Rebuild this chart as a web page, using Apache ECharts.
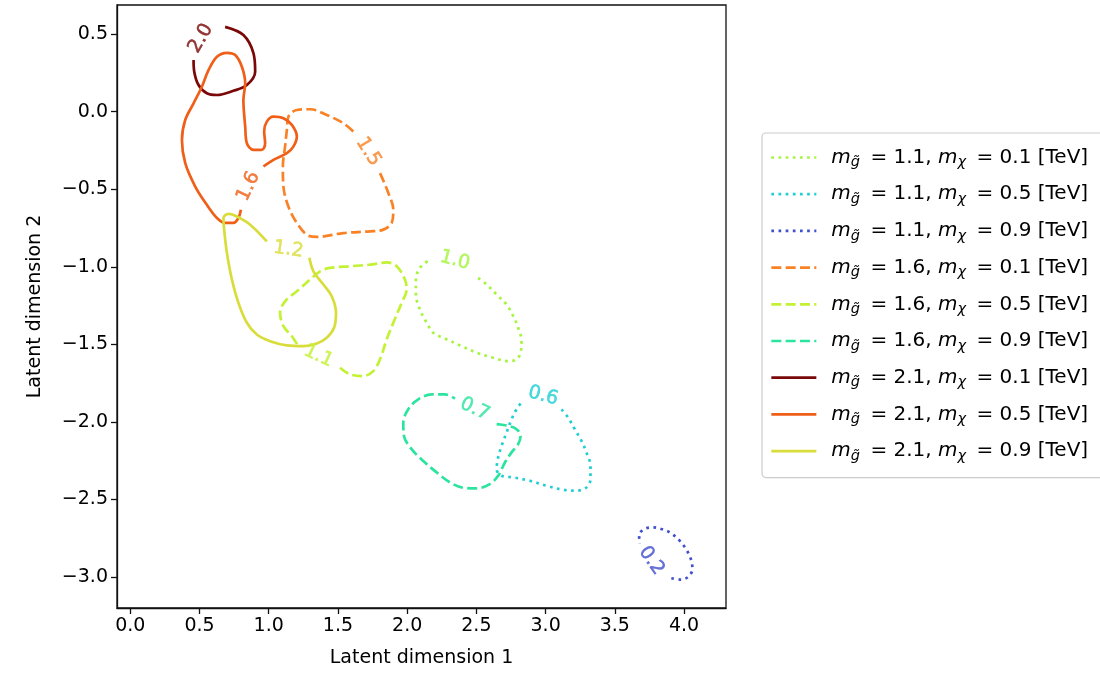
<!DOCTYPE html>
<html>
<head>
<meta charset="utf-8">
<script src="https://cdn.jsdelivr.net/npm/echarts@6/dist/echarts.min.js"></script>
<style>
  html, body { margin: 0; padding: 0; background: #ffffff; }
  #chart { width: 1100px; height: 673px; }
</style>
</head>
<body>
<div id="chart"></div>
<script>
// Axis ticks
const xTicks = [0.0, 0.5, 1.0, 1.5, 2.0, 2.5, 3.0, 3.5, 4.0];
const yTicks = [-3.0, -2.5, -2.0, -1.5, -1.0, -0.5, 0.0, 0.5];

// Signal points: gluino mass and neutralino mass in TeV
const gluinoMass = ['1.1', '1.1', '1.1', '1.6', '1.6', '1.6', '2.1', '2.1', '2.1'];
const chiMass    = ['0.1', '0.5', '0.9', '0.1', '0.5', '0.9', '0.1', '0.5', '0.9'];
const lineKinds  = ['dotted', 'dotted', 'dotted', 'dashed', 'dashed', 'dashed', 'solid', 'solid', 'solid'];
const lineColors = ['#a4f53c', '#1fcfd2', '#4150d0', '#fa8226', '#c3f134', '#2be59f', '#7a0808', '#ef5f17', '#d9dd3b'];

// Level written on each density contour
const contourLevels = ['1.0', '0.6', '0.2', '1.5', '1.1', '0.7', '2.0', '1.6', '1.2'];

// Contour paths in latent space (dimension 1, dimension 2), open where the level label sits
const contour_11_01 = [
  [2.513, -1.071], [2.574, -1.114], [2.646, -1.178], [2.718, -1.243], [2.766, -1.318],
  [2.802, -1.393], [2.826, -1.479], [2.819, -1.553], [2.790, -1.596], [2.729, -1.607],
  [2.621, -1.586], [2.501, -1.553], [2.381, -1.506], [2.260, -1.457], [2.188, -1.425],
  [2.141, -1.360], [2.092, -1.275], [2.063, -1.178], [2.063, -1.082], [2.092, -1.007],
  [2.165, -0.953]
];
const contour_11_05 = [
  [3.115, -1.918], [3.162, -1.971], [3.211, -2.047], [3.259, -2.122], [3.295, -2.196],
  [3.324, -2.283], [3.324, -2.368], [3.295, -2.422], [3.223, -2.443], [3.126, -2.437],
  [3.006, -2.411], [2.886, -2.379], [2.766, -2.357], [2.682, -2.347], [2.646, -2.304],
  [2.657, -2.229], [2.682, -2.154], [2.718, -2.068], [2.754, -1.982], [2.790, -1.918],
  [2.833, -1.865]
];
const contour_11_09 = [
  [3.908, -3.007], [3.981, -3.016], [4.035, -2.994], [4.060, -2.947], [4.053, -2.894],
  [4.021, -2.829], [3.968, -2.765], [3.896, -2.711], [3.836, -2.690], [3.776, -2.679],
  [3.716, -2.690], [3.675, -2.728], [3.680, -2.786]
];
const contour_16_01 = [
  [1.804, -0.396], [1.864, -0.524], [1.900, -0.632], [1.888, -0.717], [1.828, -0.760],
  [1.732, -0.771], [1.539, -0.782], [1.347, -0.807], [1.275, -0.793], [1.203, -0.717],
  [1.142, -0.611], [1.106, -0.482], [1.102, -0.353], [1.118, -0.225], [1.131, -0.117],
  [1.142, -0.032], [1.203, 0.011], [1.299, 0.016], [1.419, -0.021], [1.539, -0.074],
  [1.611, -0.128]
];
const contour_16_05 = [
  [1.515, -1.650], [1.587, -1.693], [1.683, -1.704], [1.755, -1.672], [1.804, -1.596],
  [1.852, -1.468], [1.900, -1.360], [1.960, -1.232], [1.996, -1.146], [1.984, -1.082],
  [1.924, -0.996], [1.852, -0.971], [1.732, -0.986], [1.587, -0.996], [1.443, -1.007],
  [1.371, -1.029], [1.299, -1.082], [1.203, -1.157], [1.118, -1.222], [1.082, -1.296],
  [1.106, -1.382], [1.167, -1.447], [1.214, -1.511]
];
const contour_16_09 = [
  [2.646, -2.014], [2.729, -2.025], [2.790, -2.047], [2.819, -2.090], [2.802, -2.143],
  [2.754, -2.196], [2.706, -2.261], [2.657, -2.347], [2.597, -2.400], [2.501, -2.428],
  [2.405, -2.424], [2.309, -2.389], [2.213, -2.325], [2.116, -2.251], [2.032, -2.175],
  [1.977, -2.090], [1.972, -2.004], [2.008, -1.918], [2.080, -1.854], [2.177, -1.822],
  [2.273, -1.822], [2.345, -1.849]
];
const contour_21_01 = [
  [0.685, 0.547], [0.817, 0.494], [0.890, 0.376], [0.902, 0.258], [0.842, 0.172],
  [0.745, 0.135], [0.626, 0.108], [0.553, 0.119], [0.493, 0.172], [0.462, 0.258],
  [0.457, 0.333]
];
const contour_21_05 = [
  [0.962, -0.353], [1.034, -0.310], [1.131, -0.267], [1.178, -0.225], [1.203, -0.160],
  [1.167, -0.085], [1.106, -0.042], [1.034, -0.032], [0.986, -0.064], [0.967, -0.128],
  [0.974, -0.203], [0.950, -0.246], [0.890, -0.246], [0.842, -0.203], [0.830, -0.096],
  [0.817, 0.076], [0.830, 0.183], [0.806, 0.290], [0.758, 0.365], [0.698, 0.380],
  [0.626, 0.354], [0.565, 0.268], [0.517, 0.161], [0.457, 0.054], [0.397, -0.053],
  [0.373, -0.182], [0.397, -0.332], [0.469, -0.482], [0.553, -0.600], [0.626, -0.685],
  [0.685, -0.717], [0.745, -0.717], [0.781, -0.685], [0.799, -0.632]
];
const contour_21_09 = [
  [1.294, -0.942], [1.323, -1.029], [1.395, -1.114], [1.455, -1.189], [1.486, -1.296],
  [1.472, -1.393], [1.419, -1.457], [1.347, -1.494], [1.250, -1.511], [1.131, -1.506],
  [1.010, -1.479], [0.914, -1.436], [0.842, -1.360], [0.781, -1.232], [0.734, -1.082],
  [0.698, -0.910], [0.678, -0.760], [0.673, -0.685], [0.709, -0.658], [0.770, -0.675],
  [0.866, -0.728], [0.986, -0.836]
];
const contourPaths = [contour_11_01, contour_11_05, contour_11_09, contour_16_01, contour_16_05,
                      contour_16_09, contour_21_01, contour_21_05, contour_21_09];

// Where each level label is written, and its angle along the contour
const labelPoints = [
  [2.345, -0.958], [2.982, -1.832], [3.764, -2.894], [1.719, -0.257], [1.359, -1.575],
  [2.489, -1.918], [0.510, 0.472], [0.854, -0.482], [1.142, -0.889]
];
const labelAngles = [-15, -15, -55, -58, -25, -25, 60, 65, -8];

const FONT = 'DejaVu Sans';
const FS = 19;
const LW = 2.7;
const dashFor = {
  dotted: [LW, LW * 1.65],
  dashed: [LW * 3.7, LW * 1.6],
  solid: 'solid'
};
const names = gluinoMass.map((g, i) => `m_g̃ = ${g}, m_χ = ${chiMass[i]} [TeV]`);

const fmtTick = v => {
  const s = Math.abs(v) < 1e-9 ? '0.0' : v.toFixed(1);
  return s.replace('-', '\u2212');
};

const series = contourPaths.map((path, i) => ({
  name: names[i],
  type: 'line',
  data: path,
  smooth: 0.35,
  symbol: 'none',
  showSymbol: false,
  clip: false,
  lineStyle: { color: lineColors[i], width: LW, type: dashFor[lineKinds[i]], cap: 'butt' },
  itemStyle: { color: lineColors[i] },
  emphasis: { disabled: true },
  silent: true,
  z: 3
}));

series.push({
  name: 'levels',
  type: 'scatter',
  symbolSize: 2,
  silent: true,
  itemStyle: { color: 'rgba(255,255,255,0)' },
  emphasis: { disabled: true },
  data: labelPoints.map((p, i) => ({
    value: p,
    label: {
      show: true,
      position: 'inside',
      formatter: contourLevels[i],
      rotate: labelAngles[i],
      color: lineColors[i],
      textBorderColor: lineColors[i],
      textBorderWidth: 0.5,
      fontFamily: FONT,
      fontSize: FS
    }
  })),
  z: 4
});

const legendRich = {
  m:   { fontFamily: FONT, fontStyle: 'italic', fontSize: 20, color: '#000', lineHeight: 25 },
  sub: { fontFamily: FONT, fontStyle: 'italic', fontSize: 14.5, color: '#000', lineHeight: 25, padding: [10, 4, 0, 0] },
  t:   { fontFamily: FONT, fontSize: 20, color: '#000', lineHeight: 25 },
  gap: { width: 10, lineHeight: 25 }
};

const chart = echarts.init(document.getElementById('chart'), null, { renderer: 'canvas' });
chart.setOption({
  animation: false,
  backgroundColor: '#ffffff',
  textStyle: { fontFamily: FONT },
  grid: {
    left: 117, top: 5, width: 609, height: 604,
    show: true, borderColor: '#111', borderWidth: 1.3, backgroundColor: 'transparent'
  },
  xAxis: {
    type: 'value',
    min: -0.096, max: 4.303,
    name: 'Latent dimension 1',
    nameLocation: 'middle',
    nameGap: 41,
    nameTextStyle: { fontFamily: FONT, fontSize: FS, color: '#000' },
    axisLine: { show: true, onZero: false, lineStyle: { color: '#111', width: 1.3 } },
    axisTick: { show: true, length: 6, lineStyle: { color: '#111', width: 1.3 }, customValues: xTicks },
    axisLabel: { fontFamily: FONT, fontSize: FS, color: '#000', margin: 9, customValues: xTicks, formatter: fmtTick },
    splitLine: { show: false }
  },
  yAxis: {
    type: 'value',
    min: -3.199, max: 0.688,
    name: 'Latent dimension 2',
    nameLocation: 'middle',
    nameGap: 72,
    nameRotate: 90,
    nameTextStyle: { fontFamily: FONT, fontSize: FS, color: '#000' },
    axisLine: { show: true, onZero: false, lineStyle: { color: '#111', width: 1.3 } },
    axisTick: { show: true, length: 6, lineStyle: { color: '#111', width: 1.3 }, customValues: yTicks },
    axisLabel: { fontFamily: FONT, fontSize: FS, color: '#000', margin: 9, customValues: yTicks, formatter: fmtTick },
    splitLine: { show: false }
  },
  legend: {
    data: names,
    orient: 'vertical',
    left: 762,
    top: 133,
    padding: [12, 40, 14, 8],
    itemWidth: 45,
    itemHeight: 14,
    itemGap: 11.7,
    backgroundColor: '#ffffff',
    borderColor: '#cccccc',
    borderWidth: 1.2,
    borderRadius: 4,
    selectedMode: false,
    lineStyle: { width: LW },
    itemStyle: { opacity: 0 },
    formatter: name => {
      const i = names.indexOf(name);
      return `{gap| }{m|m}{sub|g̃}{t| = ${gluinoMass[i]}, }{m|m}{sub|χ}{t| = ${chiMass[i]} [TeV]}`;
    },
    textStyle: { fontFamily: FONT, fontSize: FS, color: '#000', rich: legendRich }
  },
  series: series
});
</script>
</body>
</html>
